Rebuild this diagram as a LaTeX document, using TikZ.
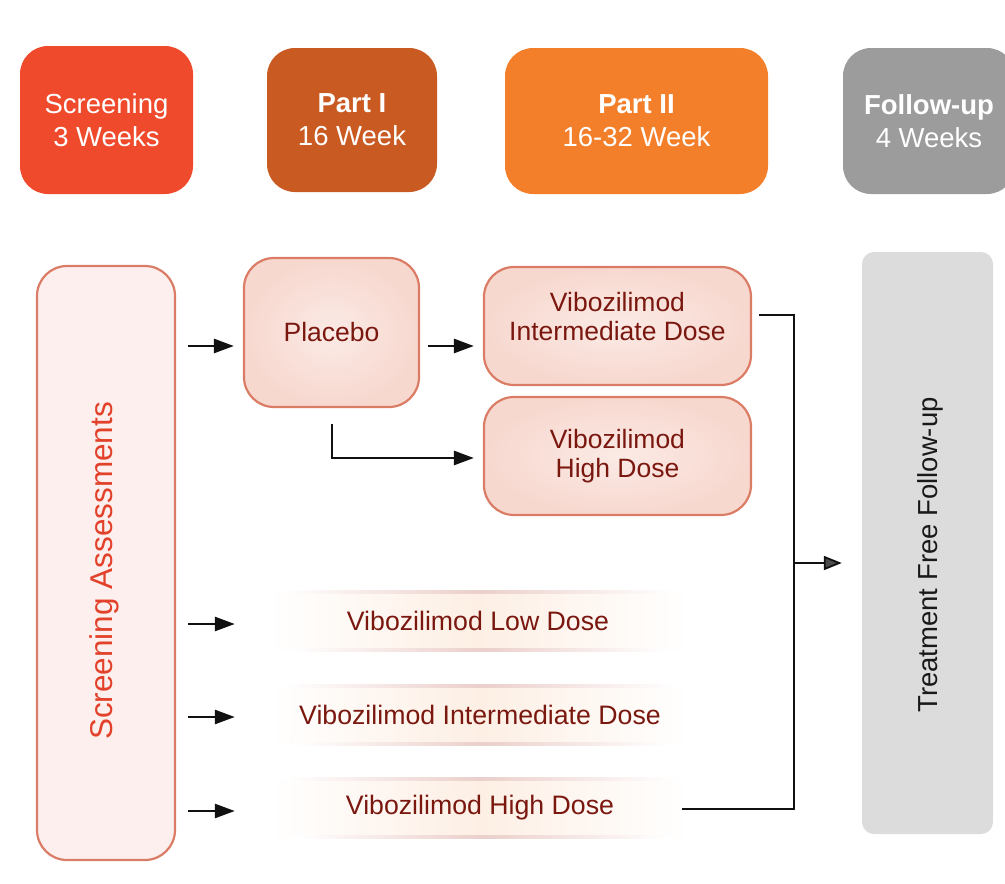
\documentclass[tikz,border=0pt]{standalone}
\usepackage{fontspec}
\setmainfont{Liberation Sans}
\usetikzlibrary{arrows.meta,calc}
\definecolor{hdrRed}{HTML}{EF4A2C}
\definecolor{hdrDark}{HTML}{C95A22}
\definecolor{hdrOrange}{HTML}{F47F2A}
\definecolor{hdrGrey}{HTML}{9C9C9C}
\definecolor{boxBorder}{HTML}{DB7C66}
\definecolor{boxIn}{HTML}{FBEAE5}
\definecolor{boxOut}{HTML}{F7D8CF}
\definecolor{saFill}{HTML}{FDEFED}
\definecolor{saText}{HTML}{E2412A}
\definecolor{darkText}{HTML}{7A1810}
\definecolor{bandPeach}{HTML}{FDEFE4}
\definecolor{bandLine}{HTML}{EBCFCB}
\definecolor{tffFill}{HTML}{DCDCDC}
\definecolor{lineCol}{HTML}{111111}
\begin{document}
\begin{tikzpicture}[x=1pt,y=-1pt,
  hdr/.style={rounded corners=28pt, text=white, align=center,
    font=\fontsize{27.5}{33}\selectfont, inner sep=0pt},
  pinkbox/.style={rounded corners=30pt, draw=boxBorder, line width=2.2pt,
    inner color=boxIn, outer color=boxOut, text=darkText, align=center,
    font=\fontsize{26.5}{28.5}\selectfont, inner sep=0pt},
  band/.style={left color=white, right color=white, middle color=bandPeach,
    minimum width=420pt, minimum height=58pt, inner sep=0pt, text=darkText,
    font=\fontsize{26.7}{30}\selectfont},
  bandline/.style={left color=white, right color=white, middle color=bandLine},
  arr/.style={draw=lineCol, line width=2.7pt, -{Triangle[length=20pt,width=14pt]}},
  arrsmall/.style={draw=lineCol, line width=1.8pt, -{Triangle[length=18pt,width=14pt,fill=black!70]}},
  conn/.style={draw=lineCol, line width=2.7pt}]
\useasboundingbox (0,0) rectangle (1005,884);
\clip (0,0) rectangle (1005,884);

% header row
\node[hdr, fill=hdrRed, minimum width=173pt, minimum height=148pt] (h1) at (106.5,120) {Screening\\3 Weeks};
\node[hdr, fill=hdrDark, minimum width=170pt, minimum height=144pt] (h2) at (352,120) {\textbf{Part I}\\16 Week};
\node[hdr, fill=hdrOrange, minimum width=263pt, minimum height=146pt] (h3) at (636.5,121) {\textbf{Part II}\\16-32 Week};
\node[hdr, fill=hdrGrey, minimum width=172pt, minimum height=146pt] (h4) at (929,121) {\textbf{Follow-up}\\4 Weeks};

% screening assessments
\node[rounded corners=30pt, draw=boxBorder, line width=2.2pt, fill=saFill,
  minimum width=138pt, minimum height=594pt, inner sep=0pt] (sa) at (106,563) {};
\node[rotate=90, text=saText, font=\fontsize{31.5}{34}\selectfont, inner sep=0pt] (satxt) at (104,571) {Screening Assessments};

% part I / II boxes
\node[pinkbox, minimum width=175pt, minimum height=149pt] (placebo) at (331.5,332.5) {Placebo};
\node[pinkbox, minimum width=267pt, minimum height=118pt, text depth=19pt] (vi) at (617.5,326) {Vibozilimod\\Intermediate Dose};
\node[pinkbox, minimum width=267pt, minimum height=118pt] (vh) at (617.5,456) {Vibozilimod\\High Dose};

% bands
\node[band] (blow) at (478,621) {Vibozilimod Low Dose};
\node[band] (bint) at (480,715) {Vibozilimod Intermediate Dose};
\node[band] (bhigh) at (480,808) {Vibozilimod High Dose};
\foreach \b in {blow,bint,bhigh}{
  \shade[bandline] ($(\b.north)+(-195,-1.3)$) rectangle ($(\b.north)+(195,1.3)$);
  \shade[bandline] ($(\b.south)+(-185,-1.3)$) rectangle ($(\b.south)+(190,1.3)$);
}

% treatment free follow-up
\node[rounded corners=12pt, fill=tffFill, minimum width=131pt, minimum height=582pt, inner sep=0pt] (tff) at (927.5,543) {};
\node[rotate=90, text=black!90, font=\fontsize{27.5}{30}\selectfont, inner sep=0pt] (tfftxt) at (930,555) {Treatment Free Follow-up};

% connectors
\draw[arr] ($(sa.east |- placebo.west)+(12,13.5)$) -- ($(placebo.west)+(-9,13.5)$);
\draw[arr] ($(sa.east |- blow.west)+(12,3)$) -- ($(blow.west)+(-33,3)$);
\draw[arr] ($(sa.east |- bint.west)+(12,2)$) -- ($(bint.west)+(-35,2)$);
\draw[arr] ($(sa.east |- bhigh.west)+(12,3)$) -- ($(bhigh.west)+(-35,3)$);
\draw[arr] ($(placebo.east)+(8,13.5)$) -- ($(vi.west |- placebo.east)+(-9,13.5)$);
\draw[arr] ($(placebo.south)+(0.5,16)$) |- ($(vh.west)+(-9,2)$);
\coordinate (bus) at (794,563);
\draw[conn] ($(vi.east)+(7,-11)$) -| (bus) |- ($(bhigh.east)+(-8,1)$);
\draw[arrsmall] (bus) -- ($(tff.west |- bus)+(-20,0)$);
\end{tikzpicture}
\end{document}
